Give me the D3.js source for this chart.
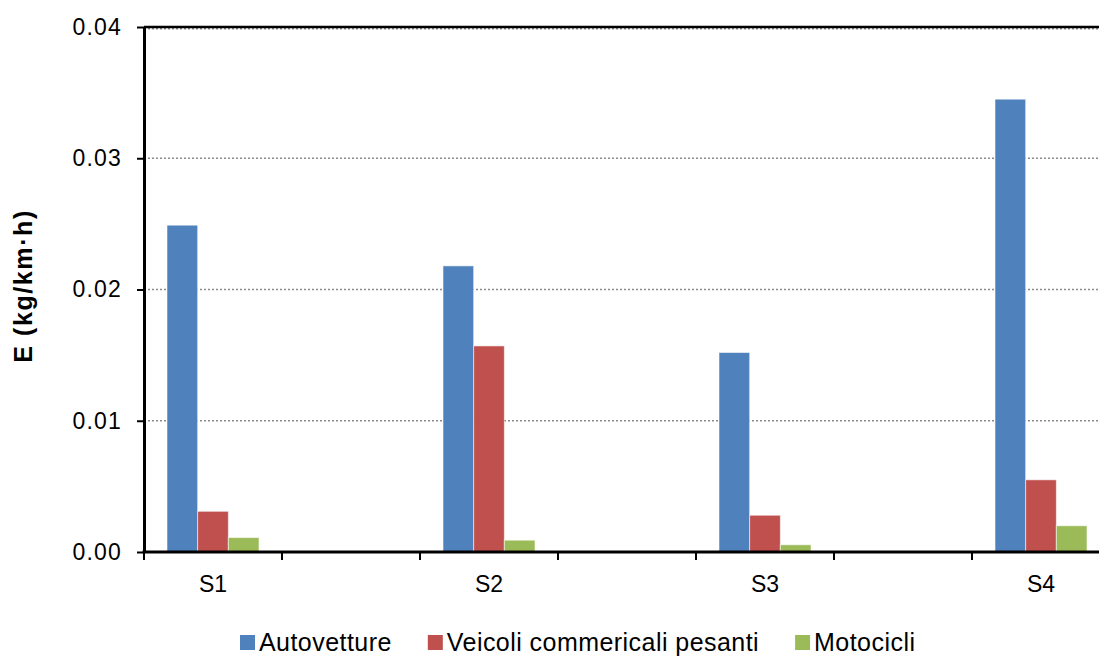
<!DOCTYPE html>
<html>
<head>
<meta charset="utf-8">
<script src="https://cdn.jsdelivr.net/npm/d3@7"></script>
<style>
  html, body { margin: 0; padding: 0; background: #fff; }
  svg { display: block; font-family: "Liberation Sans", Arial, sans-serif; }
</style>
</head>
<body>
<svg id="chart" width="1099" height="657"></svg>
<script>
// Scenarios on the x axis
const categories = ["S1", "S2", "S3", "S4"];
// Vehicle classes (series)
const seriesNames = ["Autovetture", "Veicoli commericali pesanti", "Motocicli"];
const seriesColors = ["#4F81BD", "#C0504D", "#9BBB59"];
// Emissions E (kg/km·h) per scenario
const autovetture = [0.0249, 0.0218, 0.0152, 0.0345];
const veicoliPesanti = [0.0031, 0.0157, 0.0028, 0.0055];
const motocicli = [0.0011, 0.0009, 0.00055, 0.0020];
// Y axis ticks
const yTicks = [0, 0.01, 0.02, 0.03, 0.04];
const yTickLabels = ["0.00", "0.01", "0.02", "0.03", "0.04"];
const yTitle = "E (kg/km·h)";

const values = [autovetture, veicoliPesanti, motocicli];

const svg = d3.select("#chart");
const margin = { left: 144, top: 27, bottom: 552 };

// Every scenario is followed by an empty slot on the category axis
const slots = [];
categories.forEach((c, i) => { slots.push(c); slots.push("__gap" + i); });
const slotWidth = 138;

const x = d3.scaleBand()
  .domain(slots)
  .range([margin.left, margin.left + slots.length * slotWidth])
  .paddingInner(0).paddingOuter(0);

const xInner = d3.scaleBand()
  .domain(seriesNames)
  .range([0, x.bandwidth()])
  .paddingInner(0)
  .paddingOuter(0.75);

const y = d3.scaleLinear().domain([0, 0.04]).range([margin.bottom, margin.top]);

// Dotted horizontal gridlines
svg.append("g")
  .selectAll("line")
  .data(yTicks.filter(d => d > 0))
  .join("line")
  .attr("x1", margin.left)
  .attr("x2", x.range()[1])
  .attr("y1", d => y(d) + (d === 0.04 ? 1.8 : 0))
  .attr("y2", d => y(d) + (d === 0.04 ? 1.8 : 0))
  .attr("stroke", "#8a8a8a")
  .attr("stroke-width", 1.5)
  .attr("stroke-dasharray", "2,2");

// Bars
const groups = svg.append("g")
  .selectAll("g")
  .data(seriesNames)
  .join("g")
  .attr("fill", (d, i) => seriesColors[i]);

groups.selectAll("rect")
  .data((s, si) => categories.map((c, ci) => ({ cat: c, series: s, value: values[si][ci] })))
  .join("rect")
  .attr("x", d => x(d.cat) + xInner(d.series))
  .attr("width", xInner.bandwidth())
  .attr("y", d => y(d.value))
  .attr("height", d => y(0) - y(d.value))
  .attr("stroke", "rgba(255,255,255,0.55)")
  .attr("stroke-width", 1);

// Top border of the plot area
svg.append("line")
  .attr("x1", margin.left).attr("x2", x.range()[1])
  .attr("y1", y(0.04)).attr("y2", y(0.04))
  .attr("stroke", "#000").attr("stroke-width", 2.5);

// Y axis
const yAxis = d3.axisLeft(y)
  .tickValues(yTicks)
  .tickFormat((d, i) => yTickLabels[i])
  .tickSize(7)
  .tickPadding(15)
  .tickSizeOuter(0);

const gy = svg.append("g")
  .attr("transform", `translate(${margin.left},0)`)
  .call(yAxis);
gy.select(".domain").attr("stroke", "#000").attr("stroke-width", 3);
gy.selectAll(".tick line").attr("stroke", "#000").attr("stroke-width", 2);
gy.selectAll(".tick text")
  .attr("fill", "#000")
  .style("font-size", "23px")
  .style("letter-spacing", "1.2px")
  .style("font-family", "'Liberation Sans', Arial, sans-serif");

// X axis: line plus tick marks on slot boundaries
const boundaries = d3.range(slots.length + 1).map(i => margin.left + i * slotWidth);
const gx = svg.append("g");
gx.append("line")
  .attr("x1", margin.left - 1.5).attr("x2", x.range()[1])
  .attr("y1", y(0)).attr("y2", y(0))
  .attr("stroke", "#000").attr("stroke-width", 3);
gx.selectAll("line.tick")
  .data(boundaries)
  .join("line")
  .attr("class", "tick")
  .attr("x1", d => d).attr("x2", d => d)
  .attr("y1", y(0)).attr("y2", y(0) + 8)
  .attr("stroke", "#000").attr("stroke-width", 2);
gx.selectAll("text")
  .data(categories)
  .join("text")
  .attr("x", d => x(d) + x.bandwidth() / 2)
  .attr("y", y(0) + 24)
  .attr("dy", "0.71em")
  .attr("text-anchor", "middle")
  .style("font-size", "23px")
  .attr("fill", "#000")
  .text(d => d);

// Y axis title
svg.append("text")
  .attr("transform", `translate(32,286) rotate(-90)`)
  .attr("text-anchor", "middle")
  .style("font-size", "25px")
  .style("font-weight", "bold")
  .style("letter-spacing", "1.6px")
  .attr("fill", "#000")
  .text(yTitle);

// Legend
const legend = svg.append("g");
let lx = 240;
seriesNames.forEach((name, i) => {
  legend.append("rect")
    .attr("x", lx).attr("y", 635)
    .attr("width", 15).attr("height", 15)
    .attr("fill", seriesColors[i]);
  const t = legend.append("text")
    .attr("x", lx + 19).attr("y", 651)
    .style("font-size", "25px")
    .style("letter-spacing", "0.45px")
    .attr("fill", "#000")
    .text(name);
  lx += 19 + t.node().getComputedTextLength() + 36;
});
</script>
</body>
</html>
